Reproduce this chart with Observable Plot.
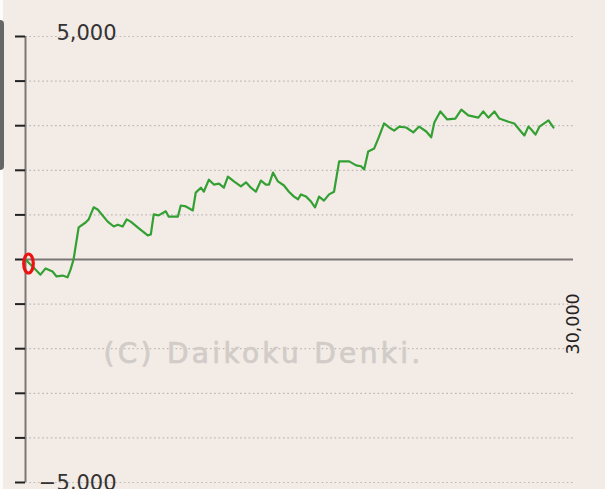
<!DOCTYPE html>
<html><head><meta charset="utf-8">
<script src="https://cdn.jsdelivr.net/npm/d3@7"></script>
<script src="https://cdn.jsdelivr.net/npm/@observablehq/plot@0.6"></script>
<style>
html,body{margin:0;padding:0;background:#f3ebe6;}
#wrap{position:relative;width:605px;height:489px;overflow:hidden;background:#f3ebe6;}
#wrap svg{position:absolute;left:0;top:0;}
#strip{position:absolute;left:0;top:0;width:3px;height:489px;background:#fbfbfb;z-index:2;}
#tab{position:absolute;left:0;top:20px;width:4px;height:150px;background:#666;border-radius:0 4px 4px 0;z-index:3;}
</style></head><body>
<div id="wrap"><div id="strip"></div><div id="tab"></div></div>
<script>
// games played (x) and medal difference (y)
const games = [0,490,820,1100,1480,1700,2030,2300,2470,2630,2910,3290,3460,3730,3950,4500,4830,5050,5320,5540,5760,6140,6690,6860,7020,7290,7680,7840,8340,8500,8780,9160,9320,9600,9760,10040,10310,10590,10860,11080,11410,11790,12070,12340,12610,12890,13160,13330,13550,13820,14150,14420,14700,14920,15080,15360,15630,15850,16070,16340,16620,16890,17170,17720,18100,18370,18540,18760,19090,19360,19630,19910,20180,20460,20840,21230,21550,21940,22210,22380,22710,23090,23530,23860,24240,24790,25060,25340,25670,25940,26440,26760,27040,27310,27530,27700,27920,28140,28630,28900];
const diff = [0,-200,-340,-200,-270,-380,-360,-400,-220,0,720,830,900,1170,1120,850,740,780,740,900,850,720,540,560,1010,990,1080,960,960,1210,1190,1100,1500,1610,1520,1790,1680,1700,1610,1860,1750,1640,1730,1610,1520,1770,1680,1680,1950,1750,1660,1520,1410,1350,1460,1410,1300,1170,1410,1320,1460,1520,2200,2200,2110,2090,2020,2420,2490,2760,3050,2960,2890,2980,2960,2850,2980,2870,2740,3070,3320,3140,3160,3360,3230,3180,3320,3180,3320,3160,3090,3050,2910,2780,2980,2910,2800,2980,3120,2960];
const yTicks = [-5000,-4000,-3000,-2000,-1000,0,1000,2000,3000,4000,5000];
const yTopLabel = [5000];
const yBottomLabel = [-5000];
const xLabels = [30000];
const watermark = ["(C) Daikoku Denki."];

const data = games.map((g, i) => ({g, d: diff[i]}));
const fmt = d3.format(",");

const chart = Plot.plot({
  width: 605, height: 489,
  marginLeft: 25, marginRight: 32, marginTop: 36, marginBottom: 7,
  style: {background: "transparent", fontFamily: "DejaVu Sans", overflow: "visible"},
  x: {domain: [0, 30000], axis: null},
  y: {domain: [-5000, 5000], axis: null},
  marks: [
    Plot.ruleY(yTicks.filter(d => d !== 0), {stroke: "#bdb8b4", strokeWidth: 1.2, strokeDasharray: "1.6,2.7"}),
    Plot.text(watermark, {frameAnchor: "middle", dx: -36, dy: 95, text: d => d, fontSize: 28, fill: "#d2ccc8", stroke: "#d2ccc8", strokeWidth: 0.7}),
    Plot.ruleY([0], {stroke: "#7a7776", strokeWidth: 2}),
    Plot.ruleX([0], {y1: -5000, y2: 5000, stroke: "#7a7776", strokeWidth: 2}),
    Plot.axisY({ticks: yTicks, tickSize: 10, tickFormat: () => "", label: null, stroke: "#222", strokeWidth: 2}),
    Plot.text(yTopLabel, {y: d => d, frameAnchor: "left", dx: 91, dy: -3, text: d => fmt(d), textAnchor: "end", fontSize: 21, fill: "#333"}),
    Plot.text(yBottomLabel, {y: d => d, frameAnchor: "left", dx: 91, dy: 1, text: d => fmt(d), textAnchor: "end", fontSize: 21, fill: "#333"}),
    Plot.line(data, {x: "g", y: "d", stroke: "#33a033", strokeWidth: 2.2}),
    Plot.text(xLabels, {x: d => d, y: 0, dy: 95, rotate: -90, text: d => fmt(d), textAnchor: "start", fontSize: 17.5, fill: "#222"})
  ]
});

const wrap = document.getElementById("wrap");
wrap.insertBefore(chart, wrap.firstChild);
d3.select(chart).selectAll("text").filter(function() { return this.textContent === watermark[0]; })
  .style("letter-spacing", "3.3px");
const sx = chart.scale("x"), sy = chart.scale("y");
d3.select(chart).append("ellipse")
  .attr("cx", sx.apply(data[0].g) + 3.5)
  .attr("cy", sy.apply(data[0].d) + 4.5)
  .attr("rx", 4.8).attr("ry", 9.5)
  .attr("fill", "none").attr("stroke", "#ee1111").attr("stroke-width", 3.2);
</script>
</body></html>
